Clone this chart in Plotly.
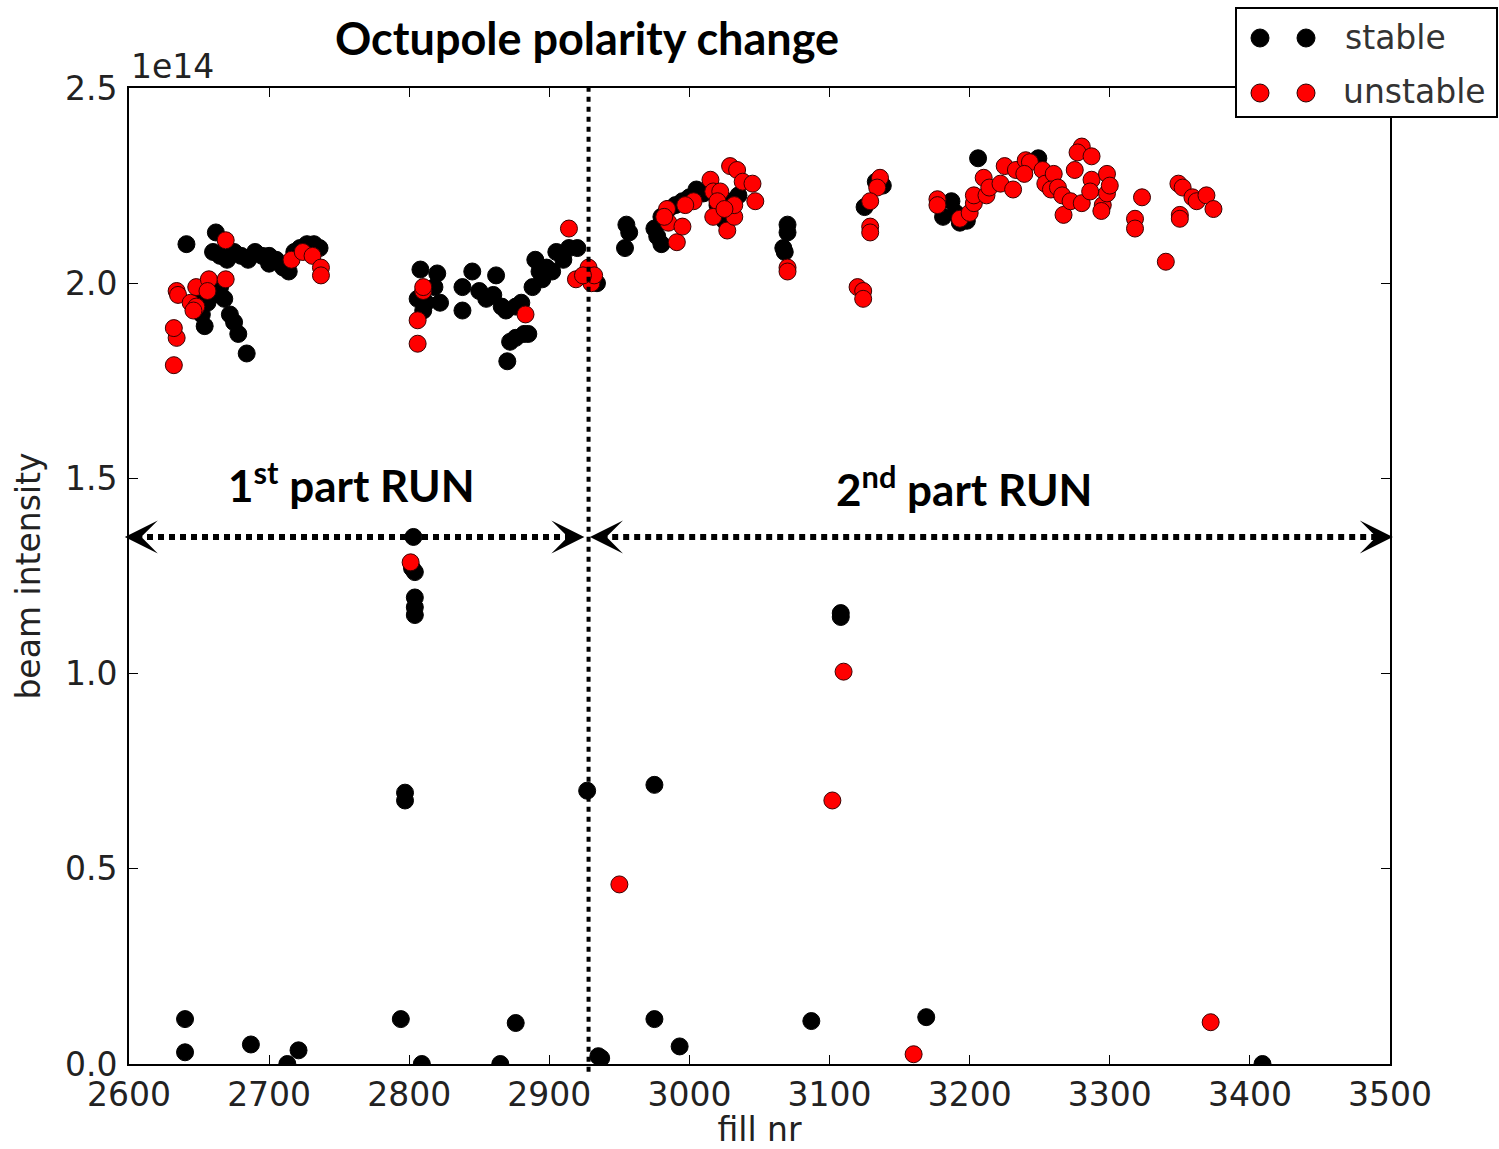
import plotly.graph_objects as go

# ---------------- data (beam intensity in units of 1e14) ----------------
stable_fill = [
    2641, 2662, 2660, 2665, 2670, 2675, 2680, 2685, 2690, 2695, 2700, 2705, 2710, 2714,
    2718, 2722, 2727, 2732, 2736, 2700,
    2665, 2668, 2672, 2675, 2678, 2684, 2654, 2652, 2648, 2656, 2660,
    2808, 2820, 2806, 2812, 2818, 2822, 2810, 2838, 2838, 2845, 2850, 2855, 2862, 2860,
    2866, 2869, 2876, 2880, 2870, 2872, 2876, 2882, 2885,
    2888, 2890, 2895, 2898, 2902, 2905, 2910, 2914, 2920, 2893, 2930, 2934,
    2955, 2957, 2954, 2977, 2975, 2980, 2985, 2990, 2995, 3000, 3005, 3010, 3020, 3025,
    3030, 3035, 2980,
    3070, 3070, 3067, 3068, 3125, 3133, 3138,
    3181, 3187, 3193, 3206, 3249, 3198, 3190,
    # low / mid intensity fills
    2640, 2640, 2687, 2713, 2721, 2794, 2809, 2865, 2876, 2935, 2937, 2975, 2993, 3087,
    3169, 3409, 2975, 2927, 2797, 2797, 2803, 2802, 2804, 2804, 2804, 2804, 3108, 3108,
]
stable_int = [
    2.10, 2.13, 2.08, 2.07, 2.06, 2.08, 2.07, 2.06, 2.08, 2.07, 2.05, 2.06, 2.04, 2.03,
    2.08, 2.09, 2.10, 2.10, 2.09, 2.07,
    1.99, 1.96, 1.92, 1.90, 1.87, 1.82, 1.89, 1.92, 1.95, 1.95, 1.97,
    2.035, 2.025, 1.96, 1.95, 1.99, 1.95, 1.93, 1.99, 1.93, 2.03, 1.98, 1.96, 2.02, 1.97,
    1.94, 1.93, 1.94, 1.95, 1.80, 1.85, 1.86, 1.87, 1.87,
    1.99, 2.06, 2.01, 2.04, 2.03, 2.08, 2.06, 2.09, 2.09, 2.03, 2.02, 2.00,
    2.15, 2.13, 2.09, 2.12, 2.14, 2.17, 2.19, 2.20, 2.21, 2.22, 2.24, 2.23, 2.20, 2.16,
    2.21, 2.225, 2.10,
    2.15, 2.13, 2.09, 2.08, 2.195, 2.26, 2.25,
    2.17, 2.21, 2.155, 2.32, 2.32, 2.16, 2.18,
    0.115, 0.03, 0.05, 0.0, 0.035, 0.115, 0.0, 0.0, 0.105, 0.02, 0.015, 0.115, 0.045, 0.11,
    0.12, 0.0, 0.715, 0.70, 0.695, 0.675, 1.35, 1.27, 1.195, 1.17, 1.15, 1.26, 1.155, 1.145,
]

unstable_fill = [
    2632, 2634, 2632, 2634, 2635, 2644, 2648, 2646, 2648, 2657, 2656, 2669, 2669,
    2716, 2724, 2731, 2737, 2737,
    2810, 2810, 2806, 2806, 2883, 2914, 2919, 2928, 2930, 2932, 2924,
    2984, 2985, 2991, 2995, 2982, 3003, 2997, 3015, 3017, 3022, 3020, 3017, 3027, 3032,
    3032, 3025, 3029, 3034, 3038, 3045, 3047, 3070, 3070,
    3136, 3134, 3129, 3129, 3129, 3120, 3124, 3124,
    3177, 3177, 3193, 3200, 3203, 3203, 3210, 3212, 3214, 3222, 3225, 3231, 3233, 3240,
    3243, 3239, 3252, 3254, 3260, 3258, 3263, 3266, 3267, 3272, 3275, 3280, 3280, 3277,
    3287, 3287, 3286, 3295, 3294, 3298, 3298, 3300, 3323, 3318, 3318, 3340,
    3349, 3352, 3350, 3350, 3359, 3362, 3369, 3374,
    # low / mid intensity fills
    3160, 3372, 2950, 3102, 3110, 2801,
]
unstable_int = [
    1.79, 1.86, 1.885, 1.98, 1.97, 1.95, 1.94, 1.93, 1.99, 2.01, 1.98, 2.01, 2.11,
    2.06, 2.08, 2.07, 2.04, 2.02,
    1.98, 1.99, 1.905, 1.845, 1.92, 2.14, 2.01, 2.04, 2.00, 2.02, 2.02,
    2.19, 2.155, 2.105, 2.145, 2.17, 2.21, 2.20, 2.265, 2.235, 2.235, 2.21, 2.17, 2.135, 2.17,
    2.20, 2.19, 2.30, 2.29, 2.26, 2.255, 2.21, 2.04, 2.03,
    2.27, 2.245, 2.21, 2.145, 2.13, 1.99, 1.98, 1.96,
    2.215, 2.20, 2.165, 2.18, 2.205, 2.225, 2.27, 2.225, 2.245, 2.255, 2.30, 2.24, 2.29, 2.315,
    2.31, 2.28, 2.29, 2.255, 2.28, 2.24, 2.245, 2.225, 2.175, 2.21, 2.29, 2.205, 2.35, 2.335,
    2.325, 2.265, 2.235, 2.20, 2.185, 2.28, 2.23, 2.25, 2.22, 2.165, 2.14, 2.055,
    2.255, 2.245, 2.175, 2.165, 2.22, 2.21, 2.225, 2.19,
    0.025, 0.107, 0.46, 0.675, 1.005, 1.285,
]

x_ticks = [2600, 2700, 2800, 2900, 3000, 3100, 3200, 3300, 3400, 3500]
y_ticks = [0.0, 0.5, 1.0, 1.5, 2.0, 2.5]
y_tick_text = ["0.0", "0.5", "1.0", "1.5", "2.0", "2.5"]

X_RANGE = (2600, 3500)
Y_RANGE = (0.0, 2.5)

polarity_change_fill = 2928
run_arrow_level = 1.35
run1_span = (2597, 2925)
run2_span = (2929, 3502)


def xp(v):
    return (v - X_RANGE[0]) / (X_RANGE[1] - X_RANGE[0])


def yp(v):
    return (v - Y_RANGE[0]) / (Y_RANGE[1] - Y_RANGE[0])


# ---------------- figure ----------------
TICK_FONT = dict(family="DejaVu Sans", size=33, color="#222222")
BOLD_FONT = "Lato"

fig = go.Figure()
fig.add_trace(go.Scatter(
    x=stable_fill, y=stable_int, mode="markers", name="stable",
    marker=dict(size=17, color="black", line=dict(color="black", width=1)),
    showlegend=False,
))
fig.add_trace(go.Scatter(
    x=unstable_fill, y=unstable_int, mode="markers", name="unstable",
    marker=dict(size=17, color="#ff0000", line=dict(color="#3a0000", width=1)),
    showlegend=False,
))

# vertical dotted line: octupole polarity change
fig.add_shape(type="line", xref="x", yref="paper",
              x0=polarity_change_fill, x1=polarity_change_fill, y0=-0.008, y1=1.0,
              line=dict(color="black", width=4, dash="5px,5px"), layer="above")

# horizontal dotted run lines (paper refs so they may pass the axes)
for (a, b) in (run1_span, run2_span):
    fig.add_shape(type="line", xref="paper", yref="paper",
                  x0=xp(a + 8), x1=xp(b - 8), y0=yp(run_arrow_level), y1=yp(run_arrow_level),
                  line=dict(color="black", width=6, dash="6px,5px"), layer="above")

annotations = []
# arrowheads
for (a, b) in (run1_span, run2_span):
    for tip, off in ((a, 14), (b, -14)):
        annotations.append(dict(
            x=xp(tip), y=yp(run_arrow_level), xref="paper", yref="paper", text="",
            showarrow=True, ax=off, ay=0, arrowhead=3, arrowsize=5.5,
            arrowwidth=1, arrowcolor="black", standoff=0,
        ))

annotations += [
    dict(text="Octupole polarity change", xref="paper", yref="paper",
         x=xp(2927), y=1 + 50 / 976, yanchor="middle", showarrow=False,
         font=dict(family=BOLD_FONT, size=45, color="black", weight="bold")),
    dict(text="1<sup>st</sup> part RUN", xref="x", yref="y",
         x=2759, y=1.49, yanchor="middle", showarrow=False,
         font=dict(family=BOLD_FONT, size=44, color="black", weight="bold")),
    dict(text="2<sup>nd</sup> part RUN", xref="x", yref="y",
         x=3196, y=1.48, yanchor="middle", showarrow=False,
         font=dict(family=BOLD_FONT, size=44, color="black", weight="bold")),
    dict(text="1e14", xref="paper", yref="paper", x=0.0, y=1.0,
         xanchor="left", yanchor="bottom", yshift=0, showarrow=False,
         font=TICK_FONT),
    # custom legend text
    dict(text="stable", xref="paper", yref="paper", x=(1343 - 129) / 1261,
         y=1 + (88 - 38) / 976, xanchor="left", yanchor="middle", showarrow=False,
         font=dict(family="DejaVu Sans", size=33, color="#333333")),
    dict(text="unstable", xref="paper", yref="paper", x=(1341 - 129) / 1261,
         y=1 + (88 - 92) / 976, xanchor="left", yanchor="middle", showarrow=False,
         font=dict(family="DejaVu Sans", size=33, color="#333333")),
]

# custom legend box and symbols
fig.add_shape(type="rect", xref="paper", yref="paper",
              x0=(1236 - 129) / 1261, x1=(1497 - 129) / 1261,
              y0=1 - (117 - 88) / 976, y1=1 + (88 - 8) / 976,
              line=dict(color="black", width=2), fillcolor="white", layer="above")
for (px, py, col) in ((1260, 38, "black"), (1306, 38, "black"),
                      (1260, 93, "#ff0000"), (1306, 93, "#ff0000")):
    fig.add_shape(type="circle", xref="paper", yref="paper",
                  xsizemode="pixel", ysizemode="pixel",
                  xanchor=(px - 129) / 1261, yanchor=1 + (88 - py) / 976,
                  x0=-9, x1=9, y0=-9, y1=9,
                  fillcolor=col, line=dict(color="#2a0000" if col != "black" else "black", width=1),
                  layer="above")

fig.update_layout(
    width=1499, height=1149,
    margin=dict(l=129, r=109, t=88, b=85, autoexpand=False),
    paper_bgcolor="white", plot_bgcolor="white",
    annotations=annotations,
    showlegend=False,
    xaxis=dict(
        range=list(X_RANGE), tickvals=x_ticks, ticks="inside", ticklen=9, tickwidth=1,
        tickcolor="black", showline=True, linecolor="black", linewidth=2, mirror="ticks",
        showgrid=False, zeroline=False, tickfont=TICK_FONT, automargin=False,
        title=dict(text="fill nr", font=TICK_FONT, standoff=8),
    ),
    yaxis=dict(
        range=list(Y_RANGE), tickvals=y_ticks, ticktext=y_tick_text, ticks="inside", ticklen=9,
        tickwidth=1, tickcolor="black", showline=True, linecolor="black", linewidth=2,
        mirror="ticks", showgrid=False, zeroline=False, tickfont=TICK_FONT, automargin=False,
        ticklabelstandoff=3,
        title=dict(text="beam intensity", font=TICK_FONT, standoff=14),
    ),
)

fig.write_html("out.html")
